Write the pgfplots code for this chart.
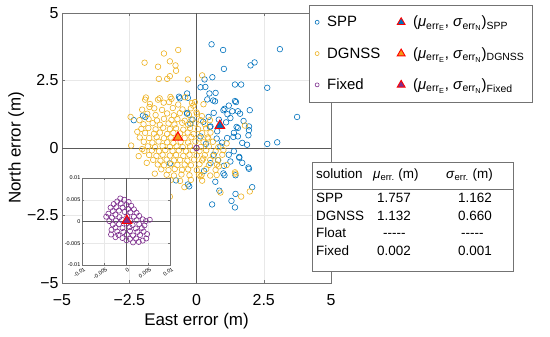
\documentclass[border=0pt]{standalone}
\usepackage{pgfplots}
\pgfplotsset{compat=1.18}
\usepackage{fontspec}
\setmainfont{Liberation Sans}
\definecolor{spp}{rgb}{0,0.447,0.741}
\definecolor{dgnss}{rgb}{0.929,0.694,0.125}
\definecolor{fixd}{rgb}{0.494,0.184,0.556}
\definecolor{trio}{rgb}{0.95,0.6,0.1}
\definecolor{axgray}{gray}{0.45}
\definecolor{zerog}{gray}{0.35}

\pgfplotstableread{
x y
0.56 3.84
0.99 3.63
3.10 3.66
1.02 2.93
2.01 3.06
2.16 3.17
2.63 2.23
1.43 2.35
1.66 2.35
0.30 2.54
0.59 2.62
0.15 2.25
0.33 2.26
0.48 2.02
0.71 2.04
-0.35 2.02
-0.62 1.84
0.69 1.73
1.20 1.57
1.47 1.70
1.04 1.45
1.98 1.40
1.33 1.36
1.54 1.36
0.64 1.30
0.83 1.05
1.26 1.11
3.74 1.15
-2.33 1.03
-1.90 1.15
1.95 0.80
1.54 0.74
1.95 0.66
1.39 0.56
1.54 0.43
1.14 0.37
1.70 0.19
1.88 0.12
2.63 0.15
3.00 0.21
1.39 -0.12
1.59 -0.36
1.26 -0.50
1.02 -0.66
1.95 -0.77
1.04 -1.01
1.45 -1.01
-0.27 -1.42
2.07 -1.45
1.45 -1.70
1.30 -1.96
0.58 -2.09
1.43 -2.20
-0.35 1.30
-0.15 1.05
0.40 1.80
0.52 0.80
0.77 0.62
0.15 0.43
0.89 0.06
0.64 -0.25
0.52 -0.56
0.62 1.76
1.43 1.74
1.00 1.40
1.62 1.27
0.25 0.97
0.50 0.78
1.49 0.78
1.37 0.41
1.93 0.47
1.59 -0.33
1.93 -0.72
1.00 -0.94
0.85 -1.58
0.35 0.15
0.75 0.35
1.10 0.95
0.95 0.20
1.20 -0.25
0.80 -0.45
1.70 -0.55
1.15 1.25
0.45 1.15
1.75 1.00
0.28 -0.85
0.70 -1.25
-0.65 1.90
-0.32 1.86
-1.99 1.20
-0.35 1.27
-0.23 0.90
-0.99 -0.57
-0.76 -1.20
-0.32 -1.35
}\sppdata

\pgfplotstableread{
x y
-0.68 3.63
-1.21 3.50
-1.93 3.16
-0.99 3.21
-0.78 3.06
-1.43 3.01
-0.76 2.86
-0.99 2.66
-1.09 2.56
-1.40 2.56
-0.32 2.54
0.21 2.69
-1.91 1.79
-1.75 1.52
-1.43 1.79
-0.97 1.89
-1.02 1.70
-2.45 1.15
-2.43 0.09
-2.02 -0.04
-0.12 1.57
0.00 1.32
0.20 1.18
1.80 0.83
0.89 -1.65
1.66 -1.80
1.98 -1.61
1.45 -0.95
-0.99 -1.80
0.15 -1.05
0.83 -0.68
-0.06 1.70
0.25 -0.39
0.81 -0.45
1.12 -0.63
0.19 -1.00
0.75 -1.00
1.43 -0.90
1.00 -0.08
1.12 0.17
0.44 0.35
0.50 1.03
-1.88 1.87
-1.37 1.84
-0.93 1.82
-0.42 1.88
-1.73 1.63
-1.22 1.68
-0.68 1.61
-0.17 1.67
0.26 1.62
-2.02 1.42
-1.57 1.47
-1.28 1.41
-0.88 1.48
-0.52 1.43
-0.21 1.47
-1.83 1.27
-1.52 1.22
-1.09 1.28
-0.84 1.21
-0.62 1.29
-0.28 1.23
0.02 1.26
-2.12 1.03
-1.78 1.07
-1.47 1.02
-1.21 1.08
-0.93 1.04
-0.71 1.07
-0.44 1.01
-0.19 1.06
0.16 1.03
-1.97 0.88
-1.63 0.92
-1.36 0.86
-1.04 0.91
-0.82 0.87
-0.53 0.93
-0.31 0.86
-0.04 0.91
0.31 0.88
-2.05 0.71
-1.79 0.74
-1.52 0.69
-1.24 0.75
-0.99 0.70
-0.76 0.73
-0.49 0.68
-0.24 0.74
0.06 0.70
0.36 0.73
-1.91 0.56
-1.58 0.53
-1.36 0.57
-1.09 0.52
-0.86 0.56
-0.61 0.54
-0.33 0.57
-0.11 0.52
0.21 0.55
0.52 0.57
-2.11 0.39
-1.76 0.37
-1.48 0.40
-1.21 0.36
-0.96 0.39
-0.44 0.37
-0.19 0.40
0.11 0.36
0.41 0.39
-1.96 0.23
-1.64 0.20
-1.41 0.24
-1.09 0.21
-0.86 0.19
-0.59 0.23
-0.31 0.20
-0.04 0.24
0.26 0.21
0.61 0.23
-1.81 0.06
-1.54 0.03
-1.26 0.07
-0.99 0.04
-0.74 0.06
-0.51 0.03
-0.24 0.07
0.16 0.04
0.46 0.06
0.81 0.03
-1.94 -0.11
-1.66 -0.09
-1.39 -0.12
-1.16 -0.08
-0.89 -0.11
-0.66 -0.09
-0.39 -0.12
-0.14 -0.08
0.11 -0.11
0.36 -0.09
0.71 -0.12
-1.76 -0.26
-1.49 -0.29
-1.26 -0.25
-0.99 -0.28
-0.76 -0.26
-0.49 -0.29
-0.26 -0.25
0.01 -0.28
0.31 -0.26
0.61 -0.29
0.96 -0.25
-1.61 -0.44
-1.34 -0.47
-1.11 -0.43
-0.84 -0.46
-0.61 -0.44
-0.34 -0.47
-0.09 -0.43
0.21 -0.46
0.51 -0.44
-1.44 -0.61
-1.21 -0.64
-0.94 -0.60
-0.71 -0.63
-0.44 -0.61
-0.21 -0.64
0.11 -0.60
0.46 -0.63
0.76 -0.61
-1.31 -0.79
-1.04 -0.82
-0.81 -0.78
-0.54 -0.81
-0.31 -0.79
0.01 -0.82
0.36 -0.78
0.71 -0.81
-1.11 -0.99
-0.84 -1.02
-0.56 -0.98
-0.26 -1.01
0.09 -0.99
0.51 -1.02
-0.96 -1.19
-0.61 -1.22
-0.21 -1.18
0.21 -1.21
-1.55 -0.95
-1.85 -0.55
-2.15 -0.30
-2.20 0.60
-0.45 -1.45
}\dgnssdata

\pgfplotstableread{
x y
-0.0013 0.0053
-0.0004 0.0050
0.0006 0.0045
-0.0020 0.0046
-0.0028 0.0040
-0.0012 0.0041
0.0001 0.0038
0.0012 0.0036
-0.0035 0.0032
-0.0022 0.0033
-0.0008 0.0032
0.0005 0.0029
0.0018 0.0028
-0.0030 0.0024
-0.0016 0.0025
-0.0003 0.0022
0.0010 0.0021
0.0024 0.0020
-0.0040 0.0018
-0.0024 0.0016
-0.0045 0.0011
-0.0032 0.0009
-0.0015 0.0010
0.0003 0.0012
0.0018 0.0011
0.0030 0.0013
-0.0038 0.0001
-0.0023 0.0002
-0.0009 0.0004
0.0009 0.0002
0.0024 0.0003
0.0038 0.0005
0.0054 0.0004
0.0045 0.0001
-0.0030 -0.0007
-0.0016 -0.0006
0.0001 -0.0005
0.0015 -0.0008
0.0030 -0.0006
0.0042 -0.0009
-0.0024 -0.0014
-0.0008 -0.0015
0.0008 -0.0013
0.0022 -0.0016
0.0036 -0.0015
-0.0033 -0.0019
-0.0020 -0.0023
-0.0006 -0.0024
0.0009 -0.0022
0.0026 -0.0024
0.0040 -0.0023
-0.0034 -0.0030
-0.0017 -0.0031
0.0002 -0.0030
0.0016 -0.0032
0.0032 -0.0031
0.0048 -0.0029
-0.0024 -0.0036
-0.0008 -0.0038
0.0009 -0.0040
0.0023 -0.0039
0.0046 -0.0039
0.0029 -0.0047
0.0016 -0.0048
0.0038 -0.0044
0.0001 -0.0043
}\fixdata

\begin{document}
\begin{tikzpicture}
\path[use as bounding box] (0,0) rectangle (550bp,337bp);
\begin{axis}[
  at={(62bp,54bp)}, anchor=south west,
  scale only axis, width=269bp, height=270bp,
  xmin=-5, xmax=5, ymin=-5, ymax=5,
  xtick={-5,-2.5,0,2.5,5}, ytick={-5,-2.5,0,2.5,5},
  xticklabels={−5,−2.5,0,2.5,5}, yticklabels={−5,−2.5,0,2.5,5},
  grid=major, grid style={gray!18, line width=0.5pt},
  axis line style={axgray}, tick style={axgray},
  tick align=inside, major tick length=3bp,
  ticklabel style={font=\fontsize{16}{18}\selectfont},
  xticklabel style={yshift=-8bp},
  label style={font=\fontsize{17}{19}\selectfont},
  xlabel={East error (m)}, ylabel={North error (m)},
  xlabel style={yshift=-1bp},
  ylabel style={yshift=-4bp},
  legend columns=2,
  legend style={at={(rel axis cs:0.918,1.03)}, anchor=north west, draw=axgray,
    fill=white, font=\fontsize{15}{17}\selectfont, row sep=15bp,
    inner xsep=6bp, inner ysep=9bp,
    cells={anchor=west},
    /tikz/every odd column/.append style={column sep=6bp},
    /tikz/every even column/.append style={column sep=15bp}},
]
\addlegendimage{only marks, mark=o, mark size=2bp, spp, mark options={line width=0.6pt}}
\addlegendentry{SPP}
\addlegendimage{only marks, mark=triangle*, mark size=4.5bp, draw=red, fill=spp, mark options={line width=0.9pt}}
\addlegendentry{(\textit{μ}\textsubscript{err\textsubscript{E}}, \textit{σ}\textsubscript{err\textsubscript{N}})\textsubscript{SPP}}
\addlegendimage{only marks, mark=o, mark size=2bp, dgnss, mark options={line width=0.6pt}}
\addlegendentry{DGNSS}
\addlegendimage{only marks, mark=triangle*, mark size=4.5bp, draw=red, fill=trio, mark options={line width=0.9pt}}
\addlegendentry{(\textit{μ}\textsubscript{err\textsubscript{E}}, \textit{σ}\textsubscript{err\textsubscript{N}})\textsubscript{DGNSS}}
\addlegendimage{only marks, mark=o, mark size=2bp, fixd, mark options={line width=0.6pt}}
\addlegendentry{Fixed}
\addlegendimage{only marks, mark=triangle*, mark size=4.5bp, draw=red, fill=fixd, mark options={line width=0.9pt}}
\addlegendentry{(\textit{μ}\textsubscript{err\textsubscript{E}}, \textit{σ}\textsubscript{err\textsubscript{N}})\textsubscript{Fixed}}

\addplot[forget plot, zerog, line width=0.8pt] coordinates {(-5,0) (5,0)};
\addplot[forget plot, zerog, line width=0.8pt] coordinates {(0,-5) (0,5)};
\addplot[forget plot, only marks, mark=o, mark size=2.8bp, spp, mark options={line width=0.6pt}] table[x=x,y=y] {\sppdata};
\addplot[forget plot, only marks, mark=o, mark size=2.8bp, dgnss, mark options={line width=0.6pt}] table[x=x,y=y] {\dgnssdata};
\addplot[forget plot, only marks, mark=o, mark size=2.8bp, fixd, mark options={line width=0.8pt}] coordinates {(0,0)};
\addplot[forget plot, only marks, mark=triangle*, mark size=5.5bp, draw=red, fill=spp, mark options={line width=1pt}] coordinates {(0.87,0.83)};
\addplot[forget plot, only marks, mark=triangle*, mark size=5.5bp, draw=red, fill=trio, mark options={line width=1pt}] coordinates {(-0.69,0.39)};
\end{axis}

\begin{axis}[
  at={(82bp,72bp)}, anchor=south west,
  scale only axis, width=88bp, height=87bp,
  xmin=-0.01, xmax=0.01, ymin=-0.01, ymax=0.01,
  axis background/.style={fill=white},
  xtick={-0.01,-0.005,0,0.005,0.01}, ytick={-0.01,-0.005,0,0.005,0.01},
  xticklabels={-0.01,-0.005,0,0.005,0.01}, yticklabels={-0.01,-0.005,0,0.005,0.01},
  scaled ticks=false,
  grid=major, grid style={gray!18, line width=0.4pt},
  axis line style={axgray}, tick style={axgray},
  tick align=inside, major tick length=2bp,
  ticklabel style={font=\fontsize{5.5}{6}\selectfont},
  xticklabel style={rotate=35, anchor=north east, inner sep=1pt, yshift=-1.5bp, xshift=1bp},
  yticklabel style={inner sep=1.5pt},
]
\addplot[zerog, line width=0.7pt] coordinates {(-0.01,0) (0.01,0)};
\addplot[zerog, line width=0.7pt] coordinates {(0,-0.01) (0,0.01)};
\addplot[only marks, mark=o, mark size=2.6bp, fixd, mark options={line width=0.6pt}] table[x=x,y=y] {\fixdata};
\addplot[only marks, mark=triangle*, mark size=5.5bp, draw=red, fill=fixd, mark options={line width=1pt}] coordinates {(0.0002,0.0002)};
\end{axis}

% statistics table
\draw[axgray, fill=white, line width=0.6pt] (312bp,66bp) rectangle (513bp,175bp);
\draw[axgray, line width=0.6pt] (312bp,148bp) -- (513bp,148bp);
\begin{scope}[every node/.style={anchor=base west, inner sep=0pt, font=\fontsize{13.5}{15}\selectfont}]
\node at (316bp,158.5bp) {solution};
\node at (373bp,158.5bp) {\textit{μ}\textsubscript{err.} (m)};
\node at (446bp,158.5bp) {\textit{σ}\textsubscript{err.} (m)};
\node at (316bp,134.5bp) {SPP};
\node at (377bp,134.5bp) {1.757};
\node at (458bp,134.5bp) {1.162};
\node at (316bp,116.5bp) {DGNSS};
\node at (377bp,116.5bp) {1.132};
\node at (458bp,116.5bp) {0.660};
\node at (316bp,99.5bp) {Float};
\node at (383bp,99.5bp) {{-}{-}{-}{-}{-}};
\node at (461bp,99.5bp) {{-}{-}{-}{-}{-}};
\node at (316bp,81.5bp) {Fixed};
\node at (377bp,81.5bp) {0.002};
\node at (458bp,81.5bp) {0.001};
\end{scope}
\end{tikzpicture}
\end{document}
